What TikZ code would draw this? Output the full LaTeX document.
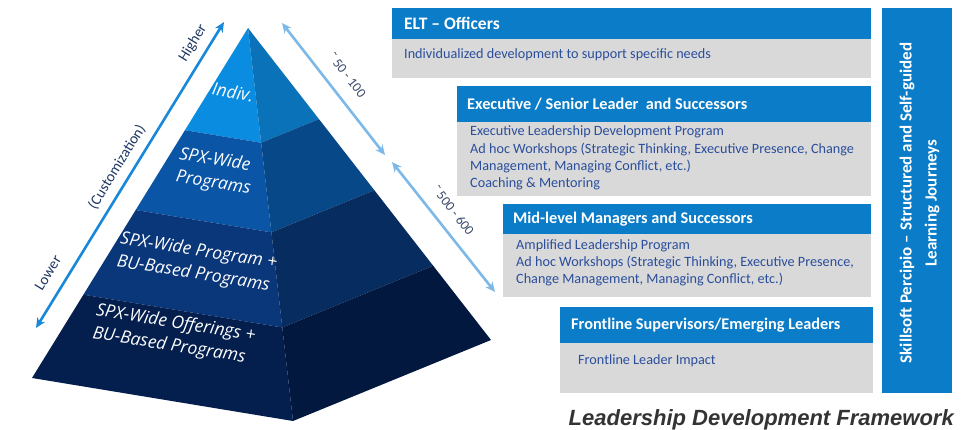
\documentclass[tikz,border=0pt]{standalone}
\usepackage{fontspec}
\setmainfont{Carlito}
\newfontfamily\pyrfont{Open Sans}
\newfontfamily\ttlfont{Liberation Sans}
\usetikzlibrary{calc,arrows.meta}
\definecolor{hdrblue}{HTML}{0A7CC8}
\definecolor{bodygray}{HTML}{D9D9D9}
\definecolor{bodytext}{HTML}{2A4E9C}
\definecolor{arrowblue}{HTML}{1A88D8}
\definecolor{lightarrow}{HTML}{7DB9E8}
\definecolor{labelnavy}{HTML}{1F3864}
\definecolor{labelgray}{HTML}{3A4A6A}
\definecolor{pAl}{HTML}{0A8DE0}
\definecolor{pAr}{HTML}{0A72B8}
\definecolor{pBl}{HTML}{0A55A5}
\definecolor{pBr}{HTML}{074888}
\definecolor{pCl}{HTML}{0A367A}
\definecolor{pCr}{HTML}{072C60}
\definecolor{pDl}{HTML}{041E4E}
\definecolor{pDr}{HTML}{03183E}
\definecolor{titlegray}{HTML}{333333}
\tikzset{
  hdrtext/.style={anchor=west, inner sep=0pt, text=white, font=\fontsize{16.3}{18}\selectfont\bfseries},
  bodyline/.style={anchor=west, inner sep=0pt, text=bodytext, font=\fontsize{14.2}{16}\selectfont},
  pyrtext/.style={text=white, inner sep=0pt, align=left, font=\pyrfont\itshape\fontsize{17.5}{23}\selectfont},
  sidelabel/.style={inner sep=0pt, text=labelnavy, font=\fontsize{15}{16}\selectfont},
  countlabel/.style={inner sep=0pt, text=labelgray, font=\fontsize{13.5}{14}\selectfont},
  bigarrow/.style={arrowblue, line width=2.6pt, {Stealth[length=10pt,width=9pt]}-{Stealth[length=10pt,width=9pt]}},
  lightdbl/.style={lightarrow, line width=2.6pt, {Stealth[length=10pt,width=9pt]}-{Stealth[length=10pt,width=9pt]}},
}
\begin{document}
\begin{tikzpicture}[x=1pt,y=1pt]
\useasboundingbox (0,0) rectangle (974,430);
\fill[white] (0,0) rectangle (974,430);
% pyramid
\coordinate (A) at (248,402);
\coordinate (BL) at (32,52);
\coordinate (BF) at (293,9);
\coordinate (BR) at (491,90);
\coordinate (L1) at ($(A)!0.292!(BL)$);
\coordinate (F1) at ($(A)!0.292!(BF)$);
\coordinate (R1) at ($(A)!0.292!(BR)$);
\coordinate (L2) at ($(A)!0.52!(BL)$);
\coordinate (F2) at ($(A)!0.52!(BF)$);
\coordinate (R2) at ($(A)!0.52!(BR)$);
\coordinate (L3) at ($(A)!0.762!(BL)$);
\coordinate (F3) at ($(A)!0.762!(BF)$);
\coordinate (R3) at ($(A)!0.762!(BR)$);
\fill[pAl] (A) -- (L1) -- (F1) -- cycle;
\fill[pAr] (A) -- (F1) -- (R1) -- cycle;
\fill[pBl] (L1) -- (L2) -- (F2) -- (F1) -- cycle;
\fill[pBr] (F1) -- (F2) -- (R2) -- (R1) -- cycle;
\fill[pCl] (L2) -- (L3) -- (F3) -- (F2) -- cycle;
\fill[pCr] (F2) -- (F3) -- (R3) -- (R2) -- cycle;
\fill[pDl] (L3) -- (BL) -- (BF) -- (F3) -- cycle;
\fill[pDr] (F3) -- (BF) -- (BR) -- (R3) -- cycle;
\node[pyrtext, rotate=-10] (t1) at (233,338) {Indiv.};
\node[pyrtext, rotate=-9] (t2) at (215,258) {SPX-Wide\\Programs};
\node[pyrtext, rotate=-9] (t3) at (197,167) {SPX-Wide Program +\\BU-Based Programs};
\node[pyrtext, rotate=-9] (t4) at (174,95) {SPX-Wide Offerings +\\BU-Based Programs};
% left arrow
\coordinate (la1) at (36,102);
\coordinate (la2) at (224,408);
\draw[bigarrow] (la1) -- (la2);
\node[sidelabel, rotate=58.4] (hi) at (193,387) {Higher};
\node[sidelabel, rotate=58.4] (cu) at (117,263) {(Customization)};
\node[sidelabel, rotate=58.4] (lo) at (48,157) {Lower};
% right arrows
\coordinate (ra1) at (282,407);
\coordinate (ra2) at (385,275);
\coordinate (rb1) at (392,268);
\coordinate (rb2) at (495,138);
\draw[lightdbl] (ra1) -- (ra2);
\draw[lightdbl] (rb1) -- (rb2);
\node[countlabel, rotate=-52] (c1) at (347,355) {\char"02DC\,50 - 100};
\node[countlabel, rotate=-52] (c2) at (453,220) {\char"02DC\,500 - 600};
% box 1
\fill[hdrblue] (392,391) rectangle (871,422);
\fill[bodygray] (392,352) rectangle (871,391);
\node[hdrtext, font=\fontsize{17.5}{18}\selectfont\bfseries] (h1) at (404,407) {ELT – Officers};
\node[bodyline] (b11) at (404,375) {Individualized development to support specific needs};
% box 2
\fill[hdrblue] (457,308) rectangle (871,344);
\fill[bodygray] (457,234) rectangle (871,308);
\node[hdrtext] (h2) at (467,326) {Executive / Senior Leader\ \ and Successors};
\node[bodyline] (b21) at (470,298) {Executive Leadership Development Program};
\node[bodyline] (b22) at (470,280.5) {Ad hoc Workshops (Strategic Thinking, Executive Presence, Change};
\node[bodyline] (b23) at (470,263) {Management, Managing Conflict, etc.)};
\node[bodyline] (b24) at (470,246) {Coaching \& Mentoring};
% box 3
\fill[hdrblue] (503,196) rectangle (871,226);
\fill[bodygray] (503,133) rectangle (871,196);
\node[hdrtext] (h3) at (513,211) {Mid-level Managers and Successors};
\node[bodyline] (b31) at (516,184) {Amplified Leadership Program};
\node[bodyline] (b32) at (516,167) {Ad hoc Workshops (Strategic Thinking, Executive Presence,};
\node[bodyline] (b33) at (516,150) {Change Management, Managing Conflict, etc.)};
% box 4
\fill[hdrblue] (560,87) rectangle (873,123);
\fill[bodygray] (560,37) rectangle (873,87);
\node[hdrtext] (h4) at (571,105) {Frontline Supervisors/Emerging Leaders};
\node[bodyline] (b41) at (578,69) {Frontline Leader Impact};
% vertical box
\fill[hdrblue] (882,37) rectangle (952,422);
\node[rotate=90, text=white, align=center, inner sep=0pt, font=\fontsize{17}{25}\selectfont\bfseries] (vt) at (919.5,227) {Skillsoft Percipio – Structured and Self-guided\\Learning Journeys};
% title
\node[anchor=base east, inner sep=0pt, text=titlegray, font=\ttlfont\bfseries\itshape\fontsize{22}{24}\selectfont] (ttl) at (954,4) {Leadership Development Framework};
\end{tikzpicture}
\end{document}
